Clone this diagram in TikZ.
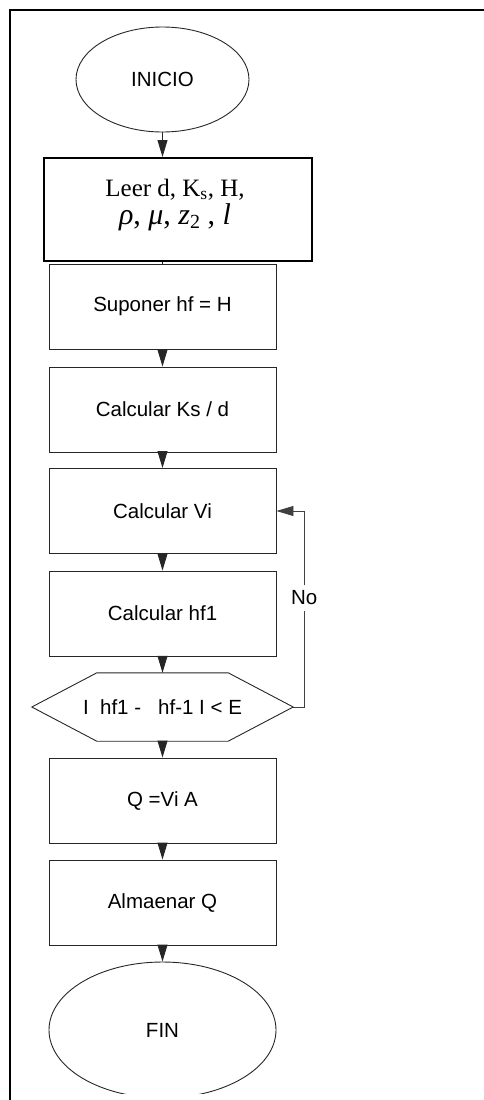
\documentclass[tikz,border=0pt]{standalone}
\usepackage{fontspec}
\setmainfont{Liberation Sans}
\newfontfamily\serif{Liberation Serif}
\usetikzlibrary{shapes.geometric,arrows.meta,calc}

\begin{document}
\begin{tikzpicture}[x=1pt,y=-1pt,
  boxline/.style={draw=black!85,line width=0.9pt},
  proc/.style={boxline,minimum width=227pt,minimum height=85pt,inner sep=0pt,
    font=\fontsize{20.5}{24}\selectfont},
  term/.style={boxline,ellipse,inner sep=0pt,font=\fontsize{20.5}{24}\selectfont},
  flow/.style={draw=black!85,line width=0.9pt,-{Triangle[length=17pt,width=10pt]}},
  loopline/.style={draw=black!75,line width=0.8pt,-{Triangle[length=17pt,width=10pt]}},
]
\useasboundingbox (0,0) rectangle (484,1100);

% outer frame
\draw[line width=2pt] (10,1100) -- (10,10) -- (484,10);

% start
\node[term,minimum width=173pt,minimum height=105pt] (ini) at (162.5,79.5) {INICIO};

% data input
\node[draw,line width=2pt,minimum width=268pt,minimum height=103pt,inner sep=0pt] (leer) at (178,209.5) {};
\node[align=center,inner sep=0pt] (leertxt) at (175,205)
  {{\serif\fontsize{25}{30}\selectfont Leer d, K\textsubscript{s}, H,}\\[3pt]
   {\serif\fontsize{30}{32}\selectfont {\itshape ρ}, {\itshape μ}, {\itshape z}\raisebox{-0.12em}{\fontsize{20}{20}\selectfont 2} , {\itshape l}}};

% process steps
\node[proc] (sup) at (162.5,306.5) {Suponer hf = H};
\node[proc] (ks)  at (162.5,409.5) {Calcular Ks / d};
\node[proc] (vi)  at (162.5,511)   {Calcular Vi};
\node[proc] (hf)  at (162.5,613.5) {Calcular hf1};

% decision (hexagon)
\node[minimum width=261pt,minimum height=68pt,inner sep=0pt,
      font=\fontsize{20.5}{24}\selectfont] (dec) at (162.5,707)
  {I\ \ hf1 -\ \ \ hf-1 I < E};
\draw[boxline] (dec.west) -- ($(dec.north west)+(65,0)$) -- ($(dec.north east)+(-65,0)$)
  -- (dec.east) -- ($(dec.south east)+(-65,0)$) -- ($(dec.south west)+(65,0)$) -- cycle;

\node[proc] (q)   at (162.5,800.5) {Q =Vi A};
\node[proc] (alm) at (162.5,902.5) {Almaenar Q};

% end (cut at the lower edge)
\begin{scope}
  \clip (0,0) rectangle (484,1093);
  \node[term,minimum width=227pt,minimum height=136pt] (fin) at (162.5,1030) {FIN};
\end{scope}

% connectors
\draw[flow] (ini.south) -- (ini.south |- leer.north);
\draw[boxline] (leer.south -| sup.north) -- (sup.north);
\draw[flow] (sup.south) -- (ks.north);
\draw[flow] (ks.south) -- (vi.north);
\draw[flow] (vi.south) -- (hf.north);
\draw[flow] (hf.south) -- (dec.north);
\draw[flow] (dec.south) -- (q.north);
\draw[flow] (q.south) -- (alm.north);
\draw[flow] (alm.south) -- (fin.north);

% loop back when the tolerance is not met
\coordinate (back) at ($(dec.east)+(11,0)$);
\draw[loopline] (dec.east) -- (back) |- (vi.east);
\node[fill=white,inner xsep=1pt,inner ysep=6pt,font=\fontsize{20.5}{24}\selectfont] (no) at (back |- 0,598) {No};
\end{tikzpicture}
\end{document}
